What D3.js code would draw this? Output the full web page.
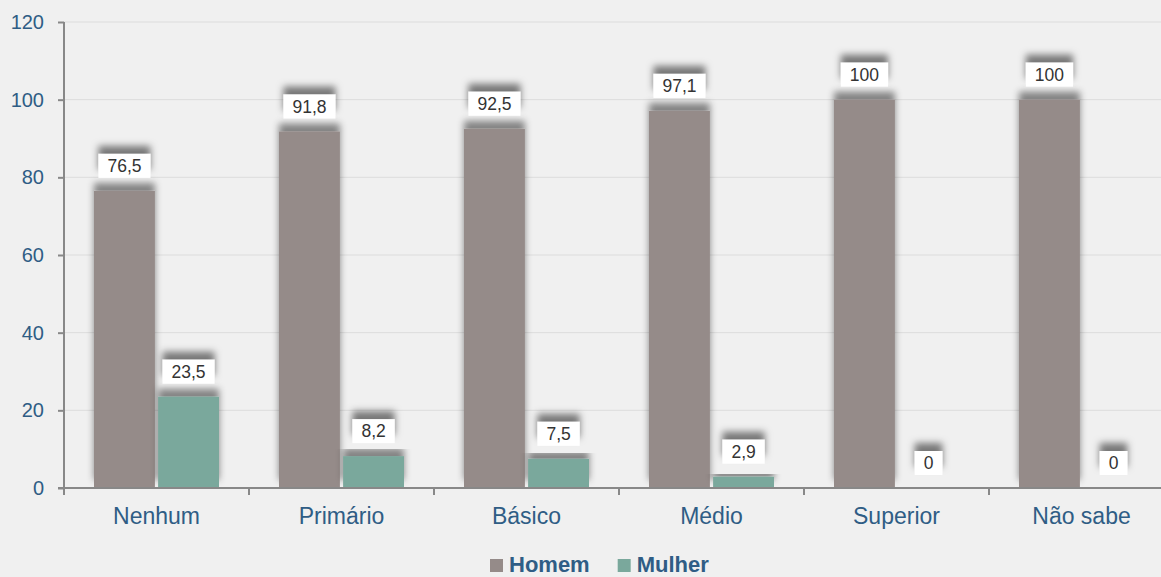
<!DOCTYPE html>
<html>
<head>
<meta charset="utf-8">
<script src="https://cdn.jsdelivr.net/npm/d3@7"></script>
<style>
  html, body { margin: 0; padding: 0; background: #f0f0f0; }
  svg { display: block; font-family: "Liberation Sans", Arial, sans-serif; }
</style>
</head>
<body>
<div id="chart"></div>
<script>
// Escolaridade x sexo (%)
const categories = ['Nenhum', 'Primário', 'Básico', 'Médio', 'Superior', 'Não sabe'];
const seriesNames = ['Homem', 'Mulher'];
const homem = [76.5, 91.8, 92.5, 97.1, 100, 100];
const mulher = [23.5, 8.2, 7.5, 2.9, 0, 0];
const yTicks = [0, 20, 40, 60, 80, 100, 120];
const colors = { Homem: '#958b89', Mulher: '#7aa89c' };

const W = 1161, H = 577;
const svg = d3.select('#chart').append('svg').attr('width', W).attr('height', H);

// shadow filters, offset upwards like the original
const defs = svg.append('defs');
const f = defs.append('filter').attr('id', 'shadow')
  .attr('x', '-30%').attr('y', '-70%').attr('width', '160%').attr('height', '240%');
f.append('feDropShadow').attr('dx', 0).attr('dy', -8).attr('stdDeviation', 3.5)
  .attr('flood-color', '#000').attr('flood-opacity', 0.5);
const fb = defs.append('filter').attr('id', 'barShadow')
  .attr('x', '-20%').attr('y', '-20%').attr('width', '140%').attr('height', '140%');
fb.append('feDropShadow').attr('dx', 0).attr('dy', -8).attr('stdDeviation', 3.5)
  .attr('flood-color', '#000').attr('flood-opacity', 0.45);

const x = d3.scaleBand().domain(categories).range([64, 64 + 6 * 185]);
const xs = d3.scaleBand().domain(seriesNames).range([30, 155]).paddingInner(0.05);
const y = d3.scaleLinear().domain([0, 120]).range([488, 22]);

// gridlines
svg.append('g').selectAll('line').data(yTicks.filter(t => t > 0)).join('line')
  .attr('x1', 64).attr('x2', W)
  .attr('y1', d => y(d)).attr('y2', d => y(d))
  .attr('stroke', '#dcdcdc').attr('stroke-width', 1);

// bars
const rows = categories.map((c, i) => ({ cat: c, values: [
  { s: 'Homem', v: homem[i] }, { s: 'Mulher', v: mulher[i] }] }));

const groups = svg.append('g').selectAll('g').data(rows).join('g')
  .attr('transform', d => `translate(${x(d.cat)},0)`);

groups.selectAll('rect.bar').data(d => d.values.filter(e => e.v > 0)).join('rect')
  .attr('class', 'bar')
  .attr('x', d => xs(d.s))
  .attr('width', xs.bandwidth())
  .attr('y', d => y(d.v))
  .attr('height', d => y(0) - y(d.v))
  .attr('fill', d => colors[d.s])
  .attr('filter', 'url(#barShadow)');

// value labels
const fmt = v => String(v).replace('.', ',');
const lab = groups.selectAll('g.lab').data(d => d.values).join('g')
  .attr('class', 'lab')
  .attr('transform', d => `translate(${xs(d.s) + xs.bandwidth() / 2},${y(d.v) - 13})`);
lab.each(function (d) {
  const g = d3.select(this);
  const t = g.append('text')
    .attr('text-anchor', 'middle')
    .attr('y', -6)
    .attr('font-size', 17.5)
    .attr('fill', '#333')
    .text(fmt(d.v));
  const w = t.node().getComputedTextLength() + 18;
  g.insert('rect', 'text')
    .attr('x', -w / 2).attr('y', -24)
    .attr('width', w).attr('height', 24)
    .attr('fill', '#fff')
    .attr('filter', 'url(#shadow)');
});

// y axis
const yAxis = svg.append('g').attr('transform', 'translate(64,0)')
  .call(d3.axisLeft(y).tickValues(yTicks).tickSize(6).tickPadding(14));
yAxis.select('.domain').attr('stroke', '#888').attr('stroke-width', 2).attr('d', `M0,${y(120)}V${y(0)}`);
yAxis.selectAll('.tick line').attr('stroke', '#888').attr('stroke-width', 2);
yAxis.selectAll('.tick text').attr('font-size', 20).attr('fill', '#2f5d85')
  .attr('font-family', '"Liberation Sans", Arial, sans-serif');

// x axis
const xAxis = svg.append('g').attr('transform', `translate(0,${y(0)})`);
xAxis.append('line').attr('x1', 58).attr('x2', W).attr('y1', 0).attr('y2', 0)
  .attr('stroke', '#888').attr('stroke-width', 2);
xAxis.selectAll('line.tk').data(categories).join('line').attr('class', 'tk')
  .attr('x1', d => x(d)).attr('x2', d => x(d)).attr('y1', 0).attr('y2', 7)
  .attr('stroke', '#888').attr('stroke-width', 2);
xAxis.selectAll('text').data(categories).join('text')
  .attr('x', d => x(d) + x.bandwidth() / 2)
  .attr('y', 36)
  .attr('text-anchor', 'middle')
  .attr('font-size', 23)
  .attr('fill', '#2f5d85')
  .text(d => d);

// legend
const legend = svg.append('g').attr('transform', 'translate(490,572)');
let lx = 0;
seriesNames.forEach(s => {
  const g = legend.append('g').attr('transform', `translate(${lx},0)`);
  g.append('rect').attr('x', 0).attr('y', -13).attr('width', 13).attr('height', 13).attr('fill', colors[s]);
  const t = g.append('text').attr('x', 19).attr('y', 0)
    .attr('font-size', 22).attr('font-weight', 'bold').attr('fill', '#2f5d85').text(s);
  lx += 19 + t.node().getComputedTextLength() + 28;
});
</script>
</body>
</html>
